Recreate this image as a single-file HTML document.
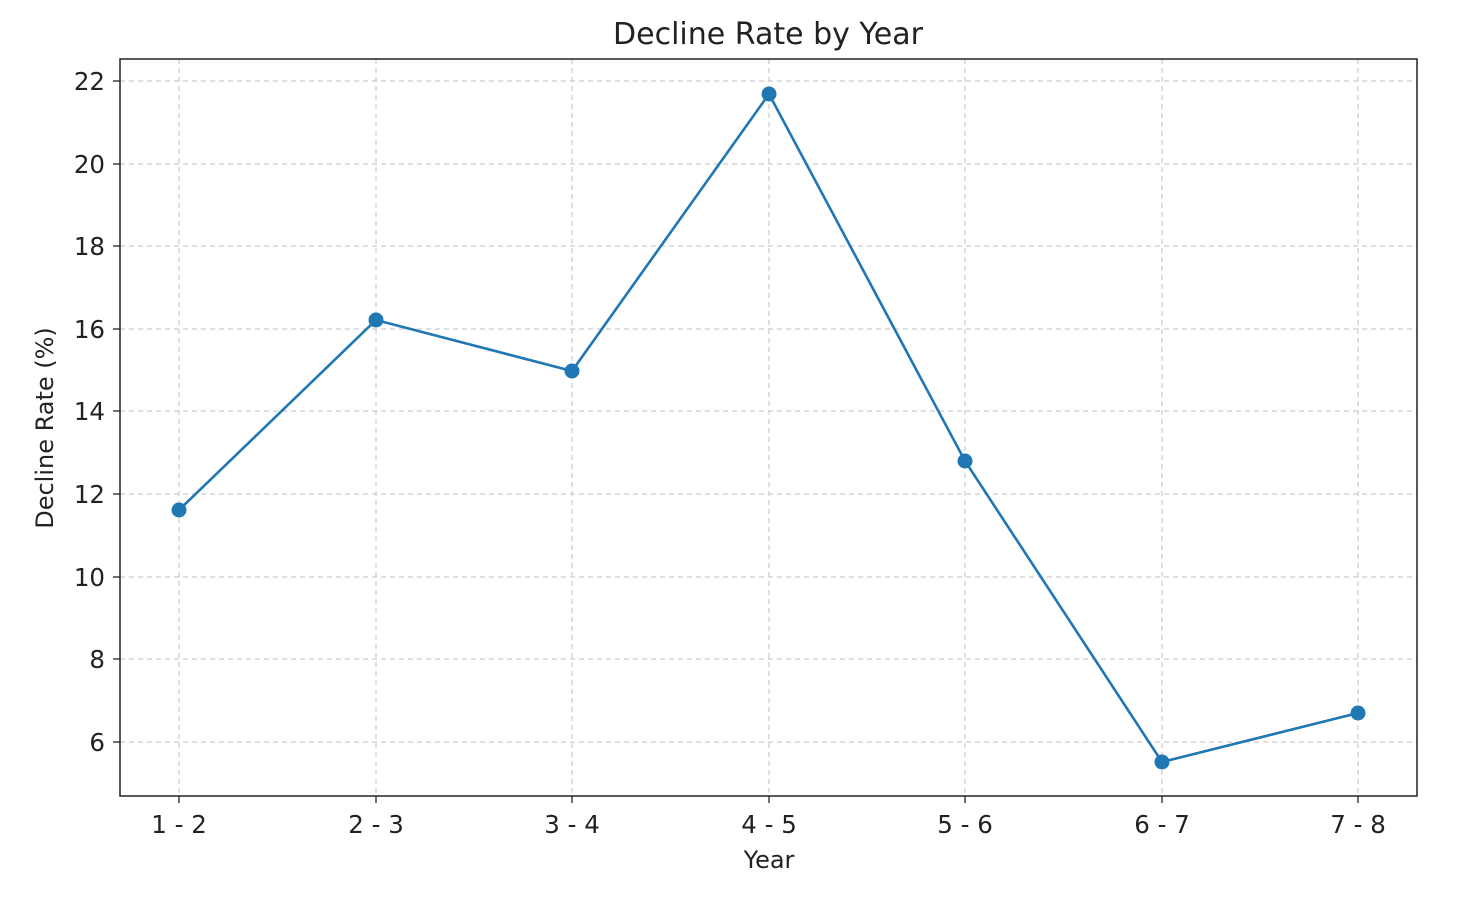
<!DOCTYPE html>
<html><head><meta charset="utf-8"><style>
html,body{margin:0;padding:0;background:#fff;}
svg text{font-family:"DejaVu Sans","Liberation Sans",sans-serif;fill:#222;}
</style></head><body>
<svg width="1480" height="898" xmlns="http://www.w3.org/2000/svg">
<rect width="1480" height="898" fill="#fff"/>
<g stroke="#cccccc" stroke-width="1.2" stroke-dasharray="5,4">
<line x1="179" y1="59" x2="179" y2="796"/>
<line x1="376" y1="59" x2="376" y2="796"/>
<line x1="572" y1="59" x2="572" y2="796"/>
<line x1="769" y1="59" x2="769" y2="796"/>
<line x1="965" y1="59" x2="965" y2="796"/>
<line x1="1162" y1="59" x2="1162" y2="796"/>
<line x1="1358" y1="59" x2="1358" y2="796"/>
<line x1="120" y1="81" x2="1417" y2="81"/>
<line x1="120" y1="164" x2="1417" y2="164"/>
<line x1="120" y1="246" x2="1417" y2="246"/>
<line x1="120" y1="329" x2="1417" y2="329"/>
<line x1="120" y1="411" x2="1417" y2="411"/>
<line x1="120" y1="494" x2="1417" y2="494"/>
<line x1="120" y1="577" x2="1417" y2="577"/>
<line x1="120" y1="659" x2="1417" y2="659"/>
<line x1="120" y1="742" x2="1417" y2="742"/>
</g>
<rect x="120" y="59" width="1297" height="737" fill="none" stroke="#222" stroke-width="1.5"/>
<g stroke="#222" stroke-width="1.3">
<line x1="179" y1="796" x2="179" y2="803"/><line x1="376" y1="796" x2="376" y2="803"/>
<line x1="572" y1="796" x2="572" y2="803"/><line x1="769" y1="796" x2="769" y2="803"/>
<line x1="965" y1="796" x2="965" y2="803"/><line x1="1162" y1="796" x2="1162" y2="803"/>
<line x1="1358" y1="796" x2="1358" y2="803"/>
<line x1="113" y1="81" x2="120" y2="81"/><line x1="113" y1="164" x2="120" y2="164"/>
<line x1="113" y1="246" x2="120" y2="246"/><line x1="113" y1="329" x2="120" y2="329"/>
<line x1="113" y1="411" x2="120" y2="411"/><line x1="113" y1="494" x2="120" y2="494"/>
<line x1="113" y1="577" x2="120" y2="577"/><line x1="113" y1="659" x2="120" y2="659"/>
<line x1="113" y1="742" x2="120" y2="742"/>
</g>
<g font-size="24.5" text-anchor="end">
<text x="105" y="90">22</text><text x="105" y="173">20</text><text x="105" y="255">18</text>
<text x="105" y="338">16</text><text x="105" y="420">14</text><text x="105" y="503">12</text>
<text x="105" y="586">10</text><text x="105" y="668">8</text><text x="105" y="751">6</text>
</g>
<g font-size="24.5" text-anchor="middle">
<text x="179" y="833">1 - 2</text><text x="376" y="833">2 - 3</text><text x="572" y="833">3 - 4</text>
<text x="769" y="833">4 - 5</text><text x="965" y="833">5 - 6</text><text x="1162" y="833">6 - 7</text>
<text x="1358" y="833">7 - 8</text>
<text x="769" y="868" font-size="24">Year</text>
<text x="768" y="44" font-size="30">Decline Rate by Year</text>
<text transform="translate(53,428) rotate(-90)" font-size="24">Decline Rate (%)</text>
</g>
<polyline fill="none" stroke="#1f77b4" stroke-width="2.6" points="179,510 376,320 572,371 769,94 965,461 1162,762 1358,713"/>
<g fill="#1f77b4">
<circle cx="179" cy="510" r="7.5"/><circle cx="376" cy="320" r="7.5"/><circle cx="572" cy="371" r="7.5"/>
<circle cx="769" cy="94" r="7.5"/><circle cx="965" cy="461" r="7.5"/><circle cx="1162" cy="762" r="7.5"/>
<circle cx="1358" cy="713" r="7.5"/>
</g>
</svg>
</body></html>
